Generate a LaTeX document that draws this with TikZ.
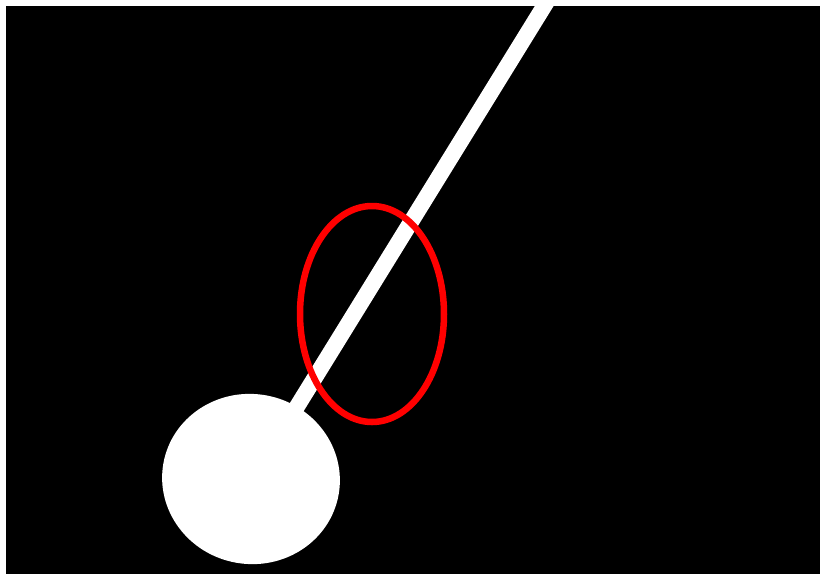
\documentclass[tikz,border=0pt]{standalone}
\begin{document}
\begin{tikzpicture}[x=1pt,y=-1pt,
  rope/.style={white,line width=16pt},
  mark ring/.style={red,line width=6.5pt}]
\useasboundingbox (0,0) rectangle (820,574);
\fill[white] (0,0) rectangle (820,574);
\fill[black] (6,6) rectangle (820,574);
\coordinate (top) at (551,-5);
\coordinate (bottom) at (290,418);
\draw[rope] (top) -- (bottom);
\fill[white,rotate around={-10:(251,479)}] (251,479) ellipse [x radius=89, y radius=85];
\draw[mark ring] (372,314) ellipse [x radius=72, y radius=108];
\end{tikzpicture}
\end{document}
